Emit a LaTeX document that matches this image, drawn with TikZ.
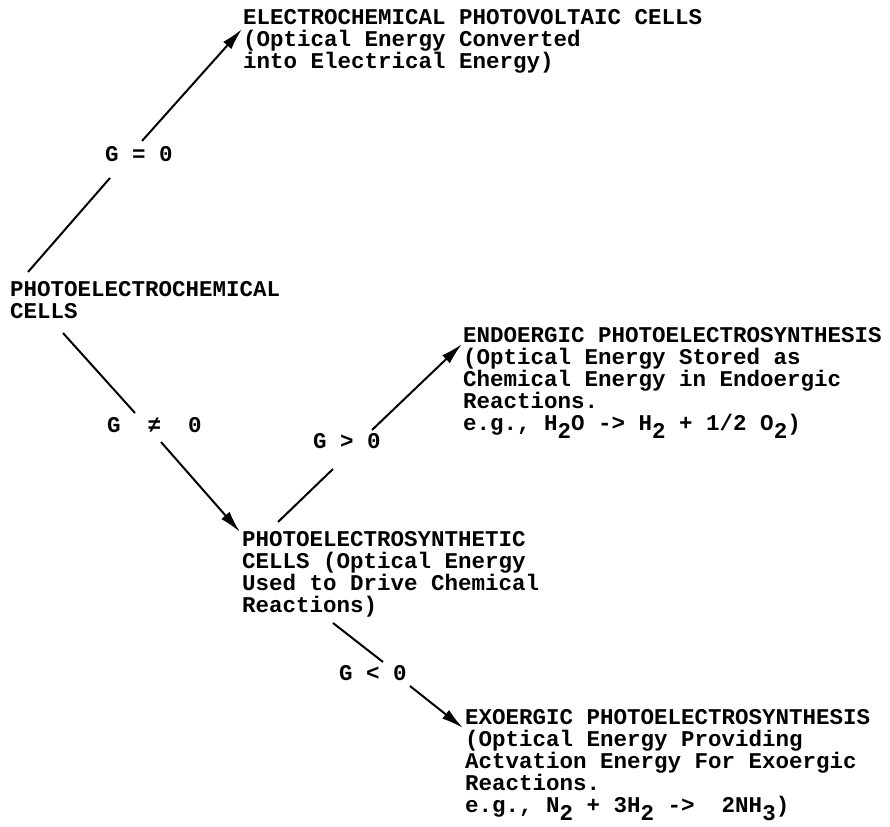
\documentclass[tikz,border=0pt]{standalone}
\usepackage{fontspec}
\setmonofont{Liberation Mono}
\usetikzlibrary{arrows.meta}
\newcommand\lowd[1]{\raisebox{-8pt}{#1}}
\begin{document}
\begin{tikzpicture}[x=1pt,y=-1pt,
  txt/.style={anchor=base west,inner sep=0pt,align=left,
    font=\fontsize{22.5}{22}\selectfont\ttfamily\bfseries\frenchspacing},
  conn/.style={line width=2pt},
  arr/.style={line width=2pt,-{Latex[length=22pt,width=11pt]}}]
\useasboundingbox[fill=white] (0,0) rectangle (890,826);
% blocks (anchor = baseline of the last line)
\node[txt] (epv) at (243,69) {ELECTROCHEMICAL PHOTOVOLTAIC CELLS\\(Optical Energy Converted\\into Electrical Energy)};
\node[txt] (pec) at (10,318.5) {PHOTOELECTROCHEMICAL\\CELLS};
\node[txt] (endo) at (463,430) {ENDOERGIC PHOTOELECTROSYNTHESIS\\(Optical Energy Stored as\\Chemical Energy in Endoergic\\Reactions.\\e.g., H\lowd{2}O -> H\lowd{2} + 1/2 O\lowd{2})};
\node[txt] (pes) at (242,612) {PHOTOELECTROSYNTHETIC\\CELLS (Optical Energy\\Used to Drive Chemical\\Reactions)};
\node[txt] (exo) at (465,812) {EXOERGIC PHOTOELECTROSYNTHESIS\\(Optical Energy Providing\\Actvation Energy For Exoergic\\Reactions.\\e.g., N\lowd{2} + 3H\lowd{2} ->\ \ 2NH\lowd{3})};
% labels
\node[txt] (l1) at (105,162) {G = 0};
\node[txt] (l2) at (107,432) {G\ \ ≠\ \ 0};
\node[txt] (l3) at (313,448) {G > 0};
\node[txt] (l4) at (339,680) {G < 0};
% connector end points
\coordinate (a1s) at (28,272);  \coordinate (a1m) at (110,178);
\coordinate (a1n) at (142,141); \coordinate (a1e) at (242,29);
\coordinate (a2s) at (63,333);  \coordinate (a2m) at (135,413);
\coordinate (a2n) at (161,442); \coordinate (a2e) at (240,532);
\coordinate (a3s) at (278,522); \coordinate (a3m) at (333,469);
\coordinate (a3n) at (372,430); \coordinate (a3e) at (462,344);
\coordinate (a4s) at (333,623); \coordinate (a4m) at (383,662);
\coordinate (a4n) at (410,686); \coordinate (a4e) at (463,728);
\draw[conn] (a1s) -- (a1m);
\draw[arr] (a1n) -- (a1e);
\draw[conn] (a2s) -- (a2m);
\draw[arr] (a2n) -- (a2e);
\draw[conn] (a3s) -- (a3m);
\draw[arr] (a3n) -- (a3e);
\draw[conn] (a4s) -- (a4m);
\draw[arr] (a4n) -- (a4e);
\end{tikzpicture}
\end{document}
